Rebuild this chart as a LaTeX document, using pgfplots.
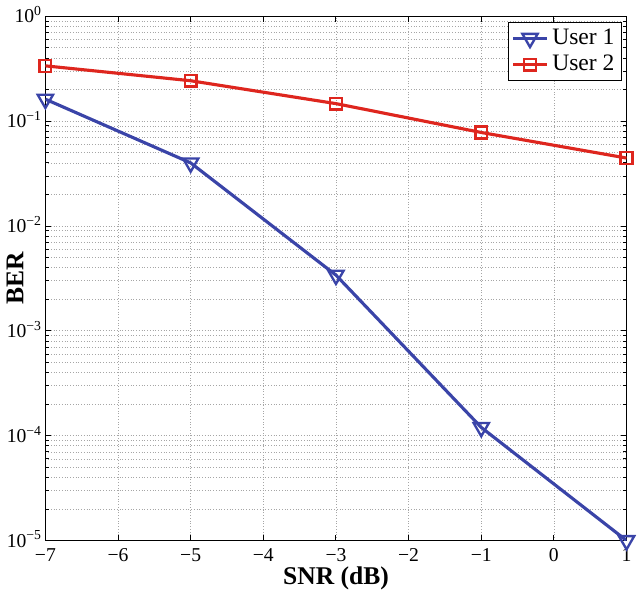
\documentclass[border=0pt]{standalone}
\usepackage{fontspec}
\setmainfont{Liberation Serif}
\usepackage{pgfplots}
\pgfplotsset{compat=1.18}
\definecolor{ublue}{RGB}{58,68,168}
\definecolor{ured}{RGB}{222,38,30}
\begin{document}
\begin{tikzpicture}
\begin{axis}[
  scale only axis,
  width=296pt, height=267pt,
  xmin=-7, xmax=1,
  ymode=log, ymin=1e-5, ymax=1,
  xtick={-7,-6,-5,-4,-3,-2,-1,0,1},
  xticklabels={−7,−6,−5,−4,−3,−2,−1,0,1},
  ytick={1e-5,1e-4,1e-3,1e-2,1e-1,1},
  yticklabels={10\textsuperscript{−5},10\textsuperscript{−4},10\textsuperscript{−3},10\textsuperscript{−2},10\textsuperscript{−1},10\textsuperscript{0}},
  tick label style={font=\fontsize{10}{12}\selectfont},
  yticklabel style={anchor=base east, inner xsep=1.5pt, yshift=-3.3pt},
  xticklabel style={inner ysep=2pt, yshift=-2pt},
  xlabel={\textbf{SNR (dB)}},
  ylabel={\textbf{BER}},
  label style={font=\fontsize{13}{15}\selectfont},
  xlabel style={yshift=3pt},
  ylabel style={at={(axis description cs:-0.026,0.5)}, anchor=south},
  tick align=inside,
  major tick length=3pt, minor tick length=1.8pt,
  axis line style={line width=0.7pt},
  every tick/.style={black, line width=0.5pt},
  xmajorgrids, ymajorgrids, yminorgrids,
  major grid style={densely dotted, gray!70, line width=0.4pt},
  minor grid style={densely dotted, gray!70, line width=0.4pt},
  legend style={at={(0.992,0.99)}, anchor=north east, draw=black, line width=0.6pt,
    font=\fontsize{12}{14}\selectfont, inner sep=1.5pt, row sep=0pt},
  legend cell align=left,
]
\addplot[ublue, line width=1.6pt, mark=triangle, mark options={rotate=180, solid, line width=1.2pt}, mark size=4.5pt]
  coordinates {(-7,0.162) (-5,0.040) (-3,0.0034) (-1,1.2e-4) (1,1.0e-5)};
\addlegendentry{User 1}
\addplot[ured, line width=1.6pt, mark=square, mark options={solid, line width=1.2pt}, mark size=3pt]
  coordinates {(-7,0.337) (-5,0.243) (-3,0.147) (-1,0.078) (1,0.0445)};
\addlegendentry{User 2}
\end{axis}
\end{tikzpicture}
\end{document}
